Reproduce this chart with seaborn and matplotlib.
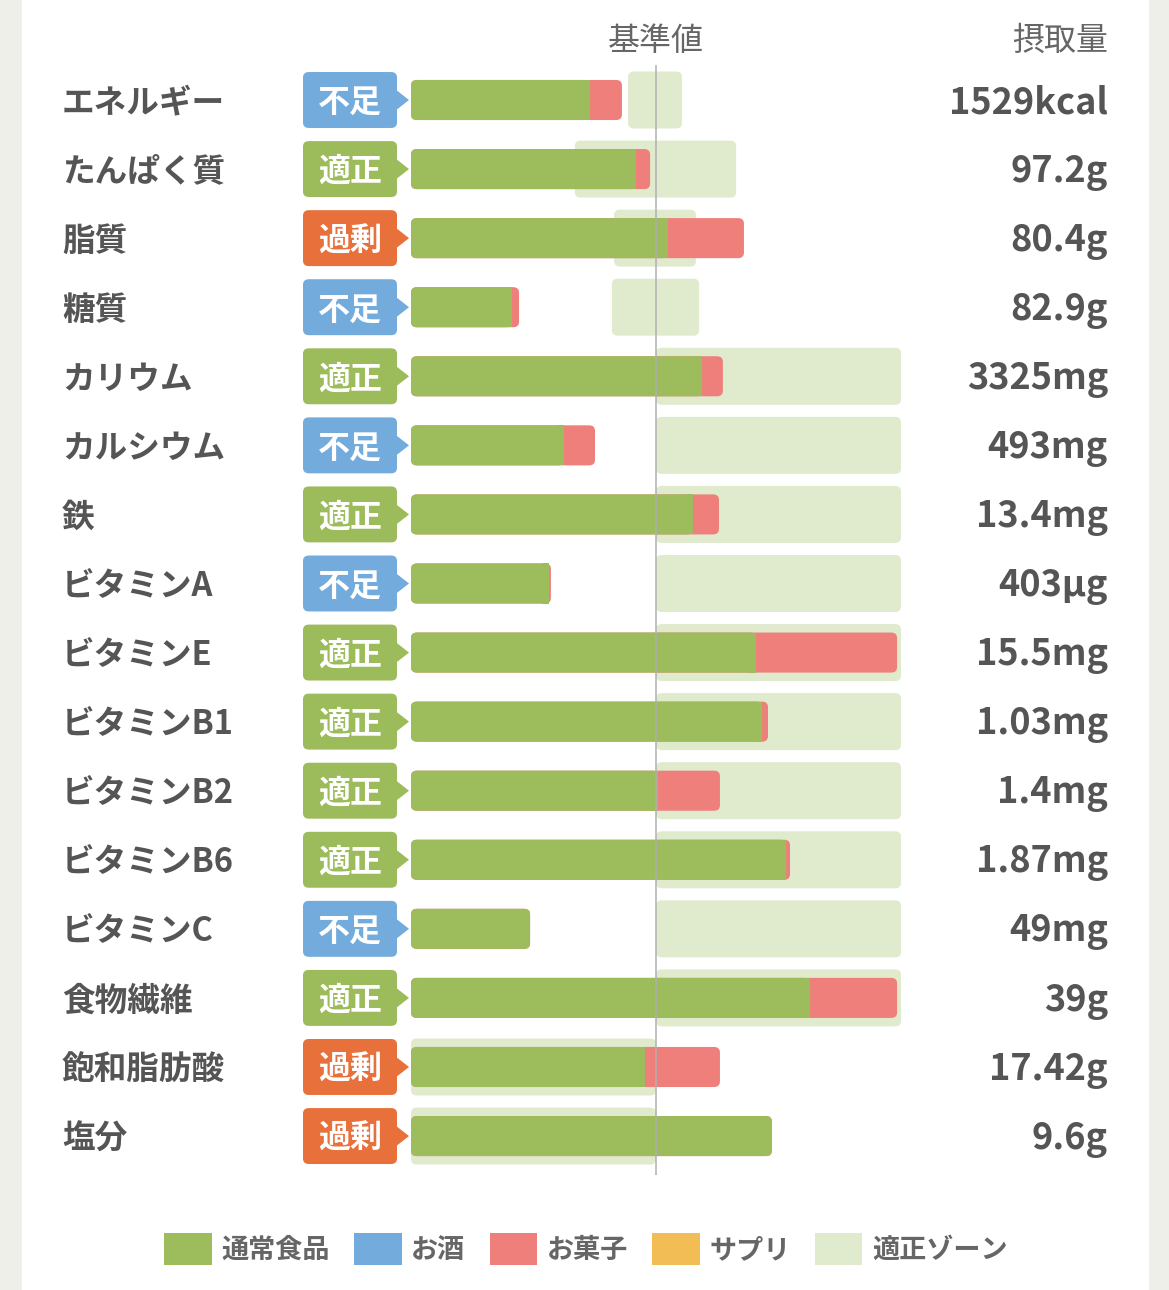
import numpy as np
import pandas as pd
import matplotlib
matplotlib.use("Agg")
import matplotlib.pyplot as plt
import seaborn as sns
from matplotlib.patches import FancyBboxPatch, Polygon, Patch

# ---------------- data ----------------
nutrients = ["エネルギー", "たんぱく質", "脂質", "糖質", "カリウム", "カルシウム", "鉄",
             "ビタミンA", "ビタミンE", "ビタミンB1", "ビタミンB2", "ビタミンB6",
             "ビタミンC", "食物繊維", "飽和脂肪酸", "塩分"]
status = ["不足", "適正", "過剰", "不足", "適正", "不足", "適正", "不足",
          "適正", "適正", "適正", "適正", "不足", "適正", "過剰", "過剰"]
# percent of reference value (基準値 = 100)
normal_food = [73.1, 91.8, 104.9, 41.2, 118.8, 62.4, 115.1, 56.3,
               140.8, 143.3, 100.8, 153.1, 48.6, 162.9, 95.5, 147.3]
snacks = [13.0, 5.8, 31.0, 2.9, 8.5, 12.7, 10.6, 0.8,
          57.6, 2.4, 25.3, 1.6, 0.0, 35.5, 30.6, 0.0]
zone_low = [88.6, 66.9, 82.9, 82.0, 100, 100, 100, 100,
            100, 100, 100, 100, 100, 100, 0, 0]
zone_high = [110.6, 132.7, 116.3, 117.6, 200, 200, 200, 200,
             200, 200, 200, 200, 200, 200, 100, 100]
intake = ["1529kcal", "97.2g", "80.4g", "82.9g", "3325mg", "493mg", "13.4mg", "403μg",
          "15.5mg", "1.03mg", "1.4mg", "1.87mg", "49mg", "39g", "17.42g", "9.6g"]
legend_labels = ["通常食品", "お酒", "お菓子", "サプリ", "適正ゾーン"]

# ---------------- styles ----------------
C_GREEN = "#9dbc5c"
C_RED = "#ee7f7b"
C_BLUE = "#72abdc"
C_ORANGE = "#f2bd55"
C_ZONE = "#e0eacd"
BADGE = {"不足": "#72abdc", "適正": "#9cbb5a", "過剰": "#e8703b"}
TXT = "#555555"

sns.set_theme(style="white")
plt.rcParams["font.family"] = ["Noto Sans CJK JP", "DejaVu Sans"]
plt.rcParams["patch.edgecolor"] = "none"

df = pd.DataFrame({"nutrient": nutrients, "normal": normal_food,
                   "snack": snacks})
df["total"] = df["normal"] + df["snack"]

W, H = 1169, 1290
fig = plt.figure(figsize=(W / 100, H / 100), dpi=100)
fig.patch.set_facecolor("#efefe9")
# white panel
fig.add_artist(plt.Rectangle((22 / W, 0), (1148 - 22) / W, 1,
                             transform=fig.transFigure, color="white", zorder=0))
ax = fig.add_axes([22 / W, 0, (1148 - 22) / W, 1])
ax.set_facecolor("none")

# pixel mapping: data 0 -> px 411, 100 -> px 656
sx = 2.45
def px2x(p):
    return (p - 411) / sx
row_px = 69.07
def py2y(p):
    return (p - 100) / row_px

n = len(nutrients)
pos = np.arange(n)

# zones
zl = np.array(zone_low, float)
zh = np.array(zone_high, float)
zone_bars = ax.barh(pos, zh - zl, left=zl, height=0.825, color=C_ZONE,
                    linewidth=0, zorder=1)

sns.barplot(data=df, x="total", y="nutrient", orient="h", color=C_RED,
            width=0.58, ax=ax, zorder=2, saturation=1, linewidth=0)
sns.barplot(data=df, x="normal", y="nutrient", orient="h", color=C_GREEN,
            width=0.58, ax=ax, zorder=3, saturation=1, linewidth=0)

# round the corners of all rectangles
r = 2.4
asp = (5.5 / row_px) / r
def roundify(rect, z):
    x0, y0 = rect.get_x(), rect.get_y()
    w, h = rect.get_width(), rect.get_height()
    if w <= 0:
        rect.remove()
        return
    rr = min(r, w / 2)
    fb = FancyBboxPatch((x0, y0), w, h,
                        boxstyle=f"round,pad=0,rounding_size={rr}",
                        mutation_aspect=asp, facecolor=rect.get_facecolor(),
                        edgecolor="none", linewidth=0, zorder=z)
    rect.remove()
    ax.add_patch(fb)

for rect in list(zone_bars.patches):
    roundify(rect, 1)
bar_rects = [p for p in ax.patches if isinstance(p, plt.Rectangle)]
red_rects = bar_rects[:n]
green_rects = bar_rects[n:2 * n]
for rect in red_rects:
    roundify(rect, 2)
for rect in green_rects:
    roundify(rect, 3)
# square off green/red junctions
for i in range(n):
    if snacks[i] > 0:
        ax.barh(pos[i], r + 0.5, left=normal_food[i] - r - 0.5, height=0.58,
                color=C_GREEN, edgecolor="none", linewidth=0, zorder=3)

# reference line
ax.vlines(100, py2y(65), py2y(1175), color="#b0b0b0", lw=1.1, zorder=5)

# badges
bx0, bx1, tip = px2x(303), px2x(397), px2x(409)
bh = 0.81
dy = 0.045
for i, s in enumerate(status):
    col = BADGE[s]
    ax.add_patch(FancyBboxPatch((bx0, i - bh / 2), bx1 - bx0, bh,
                                boxstyle=f"round,pad=0,rounding_size={r}",
                                mutation_aspect=asp, facecolor=col,
                                edgecolor="none", linewidth=0, zorder=4))
    ax.add_patch(Polygon([(bx1 - 0.5, i - 0.15), (tip, i), (bx1 - 0.5, i + 0.15)],
                         closed=True, facecolor=col, edgecolor="none",
                         linewidth=0, zorder=4))
    ax.text((bx0 + bx1) / 2, i + dy, s, ha="center", va="center",
            fontsize=23, fontweight="bold", color="white", zorder=6)

# row labels and values
for i in range(n):
    ax.text(px2x(62), i + dy, nutrients[i], ha="left", va="center",
            fontsize=23.5, fontweight="bold", color=TXT)
    ax.text(px2x(1108), i + dy, intake[i], ha="right", va="center",
            fontsize=26, fontweight="bold", color=TXT)

ax.text(100, py2y(38) + dy, "基準値", ha="center", va="center",
        fontsize=23, color="#666666")
ax.text(px2x(1108), py2y(38) + dy, "摂取量", ha="right", va="center",
        fontsize=23, color="#666666")

ax.set_xlim(px2x(22), px2x(1148))
ax.set_ylim(py2y(1290), py2y(0))
ax.set_axis_off()

# legend
handles = [Patch(facecolor=c, edgecolor="none") for c in
           [C_GREEN, C_BLUE, C_RED, C_ORANGE, C_ZONE]]
leg = fig.legend(handles, legend_labels, loc="center",
                 bbox_to_anchor=(586 / W, 1 - 1249 / H), ncol=5, frameon=False,
                 fontsize=19.5, handlelength=1.75, handleheight=1.4,
                 handletextpad=0.35, columnspacing=0.9)
for t in leg.get_texts():
    t.set_color("#666666")
    t.set_fontweight("bold")

fig.savefig("out.png", dpi=100, facecolor=fig.get_facecolor())
